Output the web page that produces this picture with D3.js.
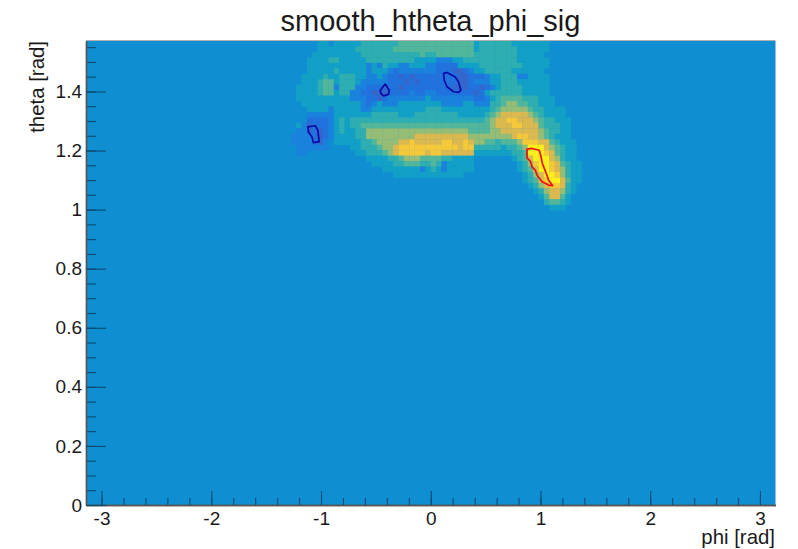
<!DOCTYPE html>
<html><head><meta charset="utf-8">
<script src="https://cdn.jsdelivr.net/npm/d3@7"></script>
<style>html,body{margin:0;padding:0;background:#fff}svg{display:block}text{font-family:"Liberation Sans",Arial,sans-serif;fill:#1a1a1a}</style>
</head><body><svg id="c" width="798" height="549"></svg>
<script>
const chartTitle = "smooth_htheta_phi_sig";
const xTitle = "phi [rad]";
const yTitle = "theta [rad]";
const xMajor = [-3,-2,-1,0,1,2,3];
const yMajor = [0,0.2,0.4,0.6,0.8,1,1.2,1.4];
const xMinor = d3.range(-15,16).map(d=>d/5);
const yMinor = d3.range(0,32).map(d=>d/20);
const phiExtent = [-Math.PI, Math.PI];
const thetaExtent = [0, Math.PI/2];
const nPhiBins = 128, nThetaBins = 85;
const firstPhiBin = 38;
const backgroundLevel = 3;
// z level per bin (hex digit), top theta row first; left and right parts of each row
const rowsLeft = [
"3333344344444555555566666","3333344444445555555666666","3333444444444555555555556",
"3334444554444455555555544","3334444444444424254422444","3334444454444424442122222",
"3344445445554422421101011","3344456645554222221110101","3444456625552211101101111",
"3444456645522110001111211","3444444444422211012222222","3344444444444212422244444",
"3334444244444224444444444","3332222244444445555544455","3331111245455555555555555",
"3420111245455666666666666","3220101245445577777777777","2222101244445577777777788",
"2222102344444556777788988","3222222333344555677899999","3223333333334455567899999",
"3333333333333344445567776","3333333333333334444556665","3333333333333333344444442",
"3333333333333333333444444","3333333333333333333333333","3333333333333333333333333",
"3333333333333333333333333","3333333333333333333333333","3333333333333333333333333","3333333333333333333333333"
];
const rowsRight = [
"6666666664555555444444433333333","6666666664555555544444433333333","5566666665555555544444333333333",
"4422244555555555544444433333333","2211114444555555554444433333333","2211100124455555444444333333333",
"1111110011124455522444433333333","1111110012224455544444433333333","1111100011012455554444433333333",
"2211111110145555554444433333333","4222222221124566665554443333333","4442222442225567766554443333333",
"5554444444445677777655444433333","5555554444456788888765444433333","5555555555567889988876554443333",
"6666666666667888998886555443333","7777777766667788888887655443333","8888888877777777899887654443333",
"8889988987766566679998865444333","9999998995555545567aaa876544333","8998888884444444556aaa986544333",
"66655444433333334568aaa87544333","565244444333333334579aa98654433","454244444333333334568aa98754433",
"4444444333333333334578aa9754433","33333333333333333345689aa864433","3333333333333333333457899854333",
"3333333333333333333345788754333","3333333333333333333334688643333","3333333333333333333333566543333",
"3333333333333333333333344433333"
];
const levelColors = ["#3466cc","#2272de","#1a82dc","#0f8fd2","#12a0c6","#2eaeb0","#52b79a","#96bd76","#dcb94f","#f6c93a","#fff01a"];
const redContourPhi = [.877,.923,.989,1.005,1.017,1.053,1.074,1.111,1.074,1.014,.968,.953,.923,.907,.877];
const redContourTheta = [1.205,1.207,1.201,1.179,1.156,1.122,1.100,1.081,1.083,1.094,1.117,1.134,1.145,1.164,1.175];
const blueAPhi = [.117,.148,.223,.253,.275,.253,.208,.148,.123];
const blueATheta = [1.461,1.464,1.449,1.432,1.404,1.397,1.399,1.416,1.438];
const blueBPhi = [-.46,-.415,-.378,-.385,-.43,-.454];
const blueBTheta = [1.404,1.425,1.404,1.39,1.385,1.393];
const blueCPhi = [-1.12,-1.053,-1.029,-1.017,-1.069,-1.083,-1.114];
const blueCTheta = [1.28,1.284,1.269,1.23,1.227,1.246,1.263];

const L=86,R=775.5,T=41,B=505;
const x=d3.scaleLinear().domain(phiExtent).range([L,R]);
const y=d3.scaleLinear().domain(thetaExtent).range([B,T]);
const svg=d3.select("#c");
svg.append("rect").attr("x",x(phiExtent[0])).attr("y",y(thetaExtent[1])).attr("width",R-L).attr("height",B-T).attr("fill",levelColors[backgroundLevel]);
const dPhi=(phiExtent[1]-phiExtent[0])/nPhiBins, dTheta=(thetaExtent[1]-thetaExtent[0])/nThetaBins;
const cells=[];
rowsLeft.forEach((row,r)=>{
  const s=row+(rowsRight[r]||"");
  for(let i=0;i<s.length;i++){
    const lv=parseInt(s[i],16);
    if(lv===backgroundLevel||isNaN(lv))continue;
    cells.push({phi:phiExtent[0]+(firstPhiBin+i)*dPhi,theta:thetaExtent[1]-r*dTheta,lv});
  }
});
svg.append("g").selectAll("rect").data(cells).join("rect")
 .attr("x",d=>x(d.phi)).attr("y",d=>y(d.theta))
 .attr("width",x(dPhi)-x(0)+0.3).attr("height",y(0)-y(dTheta)+0.3)
 .attr("fill",d=>levelColors[d.lv]);
const line=d3.line().x(d=>x(d[0])).y(d=>y(d[1]));
function contour(p,t,c){svg.append("path").attr("d",line(d3.zip(p,t))+"Z").attr("fill","none").attr("stroke",c).attr("stroke-width",1.7).attr("stroke-linejoin","round");}
contour(redContourPhi,redContourTheta,"#f01010");
contour(blueAPhi,blueATheta,"#0a0aa8");
contour(blueBPhi,blueBTheta,"#0a0aa8");
contour(blueCPhi,blueCTheta,"#0a0aa8");
svg.append("line").attr("x1",L).attr("x2",R).attr("y1",T-.5).attr("y2",T-.5).attr("stroke","#b0b0b0");
const tickColor="#0b4a72";
const gx=svg.append("g").attr("transform",`translate(0,${B})`);
gx.call(d3.axisBottom(x).tickValues(xMinor).tickSize(-7).tickSizeOuter(0).tickFormat(""));
const gxM=svg.append("g").attr("transform",`translate(0,${B})`);
gxM.call(d3.axisBottom(x).tickValues(xMajor).tickSize(-14).tickSizeOuter(0).tickFormat(d=>String(d)));
const gy=svg.append("g").attr("transform",`translate(${L},0)`);
gy.call(d3.axisLeft(y).tickValues(yMinor).tickSize(-10).tickSizeOuter(0).tickFormat(""));
const gyM=svg.append("g").attr("transform",`translate(${L},0)`);
gyM.call(d3.axisLeft(y).tickValues(yMajor).tickSize(-20).tickSizeOuter(0).tickFormat(d=>String(d)));
[gx,gxM,gy,gyM].forEach(g=>{g.selectAll(".tick line").attr("stroke",tickColor).attr("stroke-width",1.1);g.select(".domain").attr("stroke","#555").attr("stroke-width",1.4);});
svg.selectAll(".tick text").attr("font-size",19).attr("fill","#1a1a1a").attr("font-family",'"Liberation Sans",Arial,sans-serif');
gxM.selectAll(".tick text").attr("dy",0).attr("y",20);
gyM.selectAll(".tick text").attr("x",-4);
svg.append("text").attr("x",430.5).attr("y",31).attr("text-anchor","middle").attr("font-size",29).text(chartTitle);
svg.append("text").attr("x",775).attr("y",544).attr("text-anchor","end").attr("font-size",20.4).text(xTitle);
svg.append("text").attr("transform",`translate(44,41) rotate(-90)`).attr("text-anchor","end").attr("font-size",20.4).text(yTitle);
</script></body></html>
